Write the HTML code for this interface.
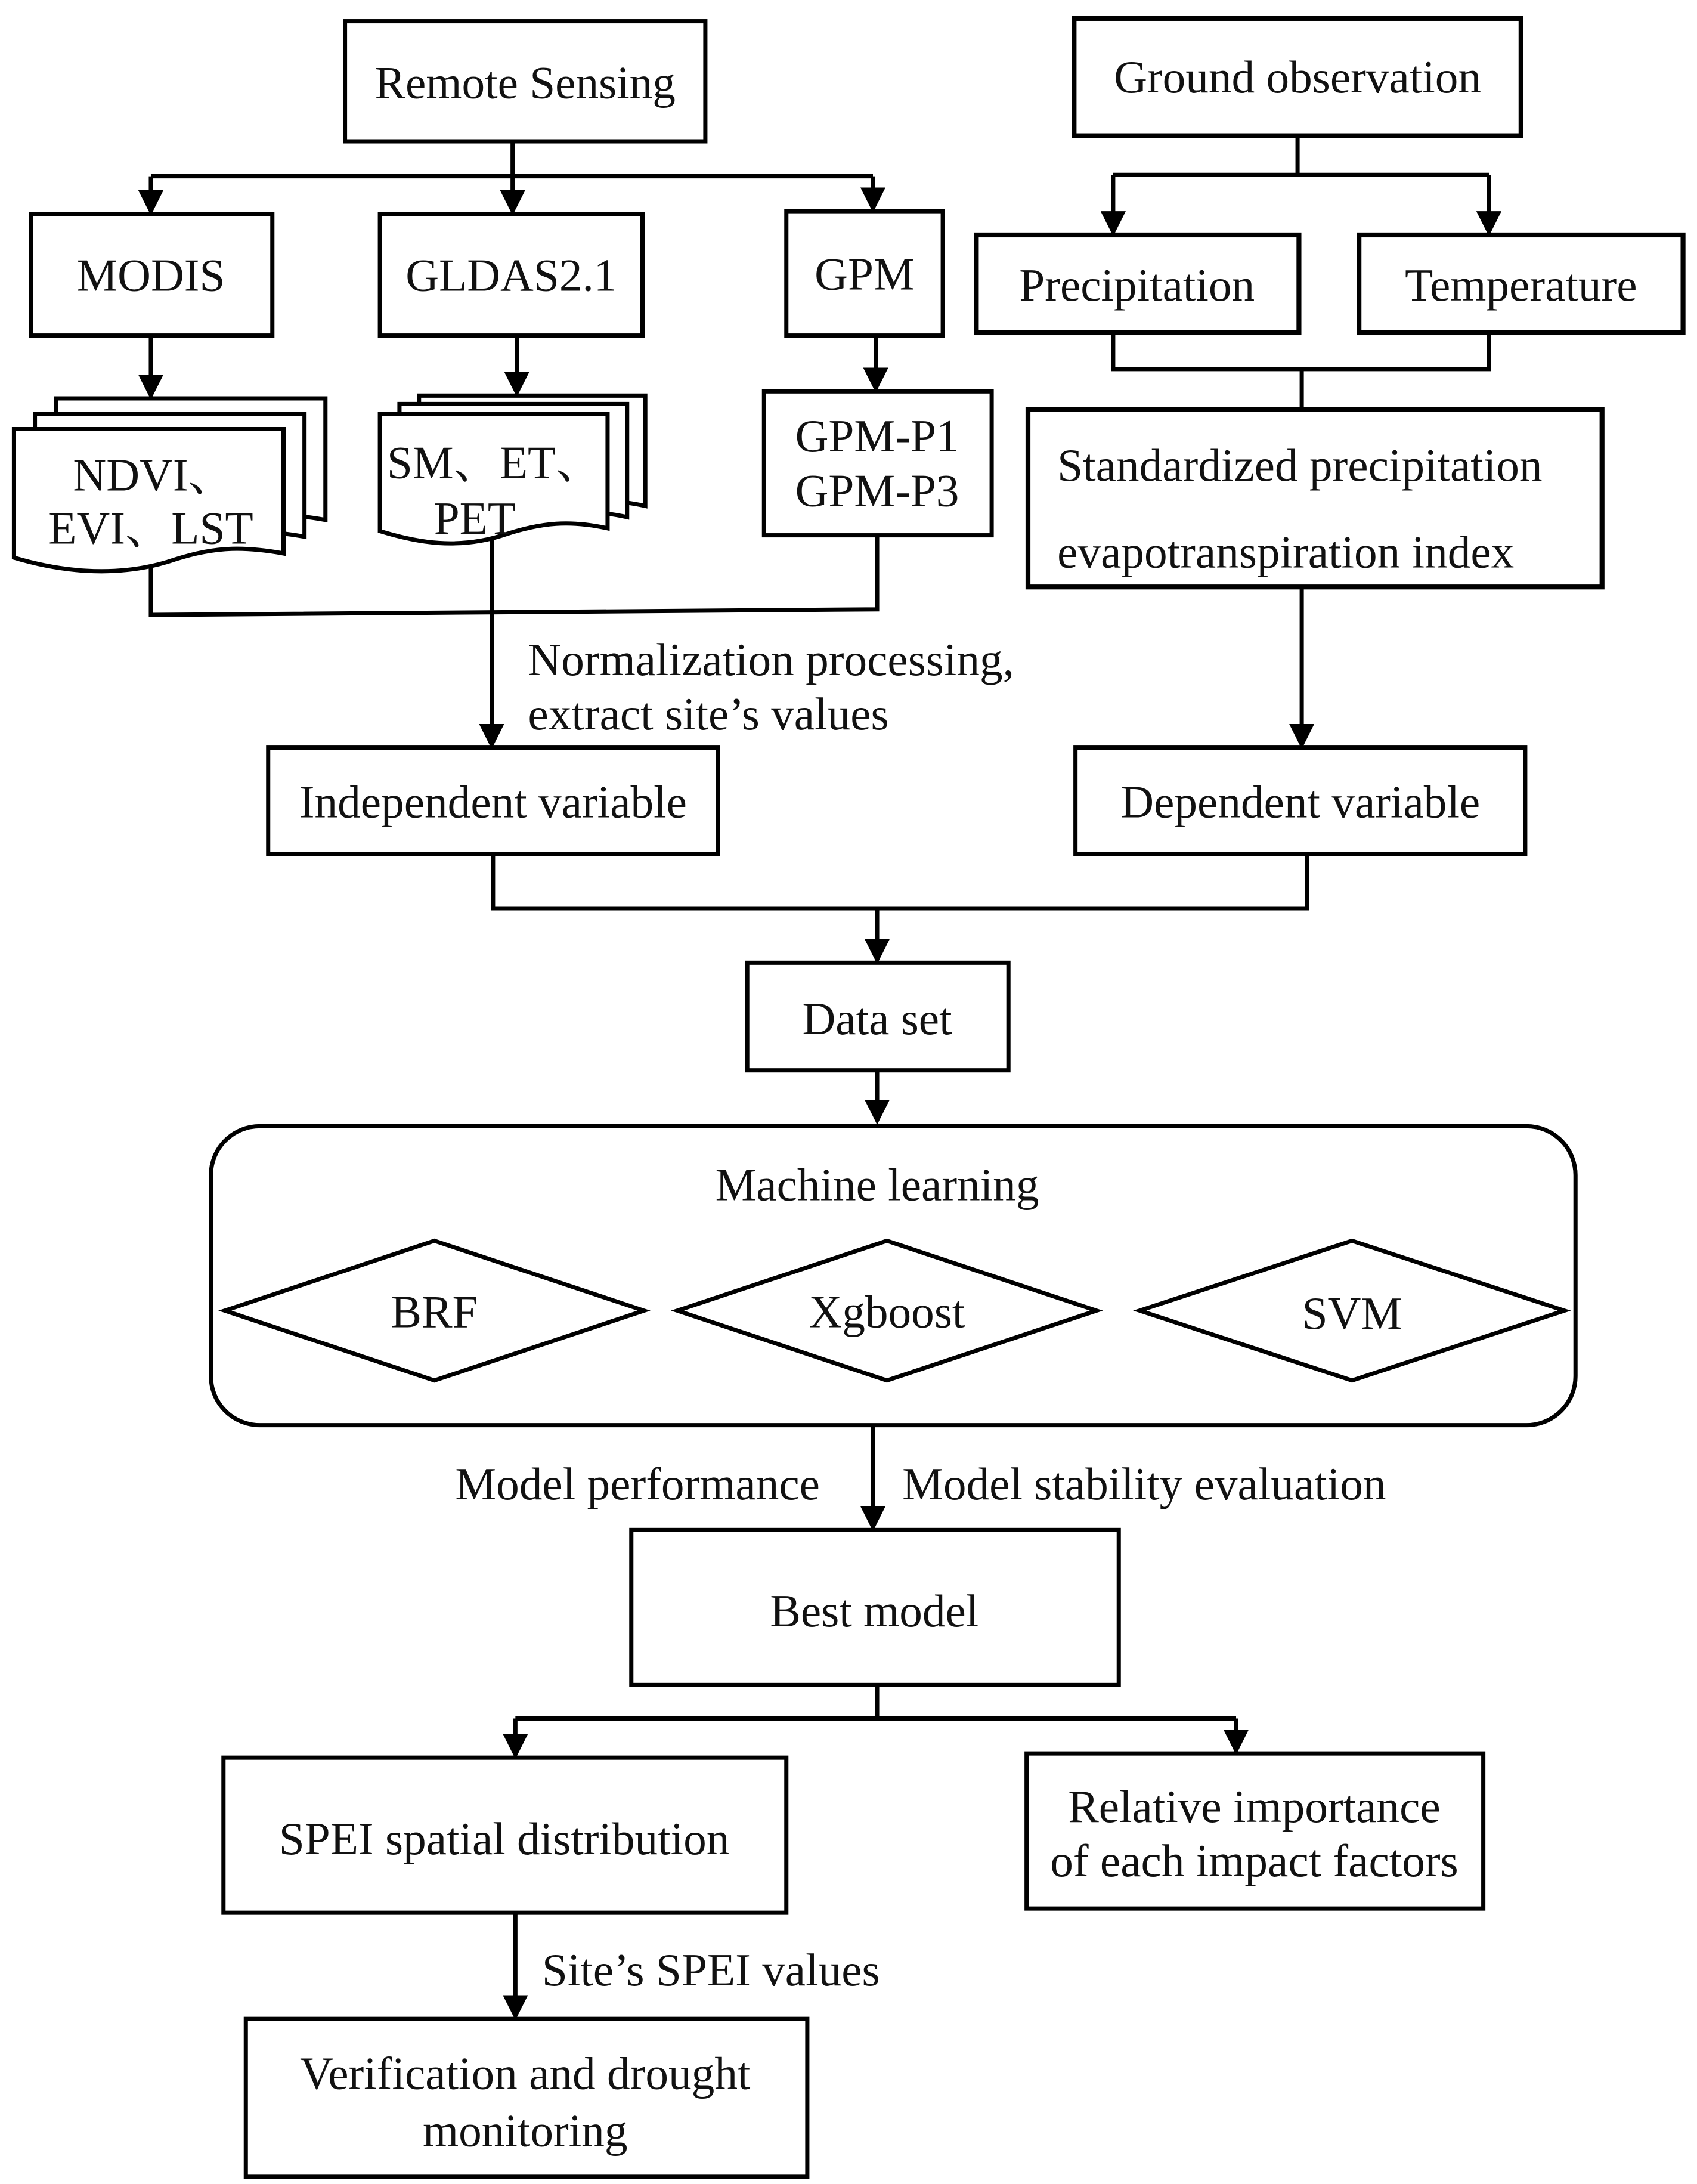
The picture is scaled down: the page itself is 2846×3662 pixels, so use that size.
<!DOCTYPE html>
<html><head><meta charset="utf-8"><style>
html,body{margin:0;padding:0;background:#fff;}
svg{display:block;}
text{font-family:"Liberation Serif","Noto Serif CJK SC",serif;font-size:33px;fill:#111;}
</style></head><body>
<svg width="2846" height="3662" viewBox="0 0 1215 1563" xmlns="http://www.w3.org/2000/svg">
<defs>
<marker id="a" markerWidth="6" markerHeight="6" refX="5" refY="3" orient="auto" markerUnits="strokeWidth">
<path d="M0,0 L6,3 L0,6 z" fill="#000"/></marker>
</defs>
<g fill="#fff" stroke="#000" stroke-width="3">
<rect x="247" y="15" width="258" height="86"/>
<rect x="769" y="13" width="320" height="84" stroke-width="3.5"/>
<rect x="22" y="153" width="173" height="87"/>
<rect x="272" y="153" width="188" height="87"/>
<rect x="563" y="151" width="112" height="89"/>
<rect x="699" y="168" width="231" height="70" stroke-width="3.5"/>
<rect x="973" y="168" width="232" height="70" stroke-width="3.5"/>
<rect x="547" y="280" width="163" height="103"/>
<rect x="736" y="293" width="411" height="127" stroke-width="3.5"/>
<path d="M40,285 H233 V372 C200,366 180,368 150,378 C110,390 70,384 40,375 Z"/>
<path d="M25,296 H218 V384 C185,378 165,380 135,390 C95,402 55,396 25,387 Z"/>
<path d="M10,307 H203 V396 C170,390 150,392 120,402 C80,414 40,408 10,399 Z"/>
<path d="M300,283 H462 V362 C435,356 415,358 390,366 C355,378 325,372 300,364 Z"/>
<path d="M286,289 H449 V370 C422,364 402,366 377,374 C342,386 312,380 286,372 Z"/>
<path d="M272,296 H435 V378 C408,372 388,374 363,382 C328,394 298,388 272,380 Z"/>
<rect x="192" y="535" width="322" height="76"/>
<rect x="770" y="535" width="322" height="76"/>
<rect x="535" y="689" width="187" height="77"/>
<rect x="151" y="806" width="977" height="214" rx="35"/>
<path d="M161,938 L311,888 L461,938 L311,988 Z"/>
<path d="M485,938 L635,888 L785,938 L635,988 Z"/>
<path d="M816,938 L968,888 L1120,938 L968,988 Z"/>
<rect x="452" y="1095" width="349" height="111"/>
<rect x="160" y="1258" width="403" height="111"/>
<rect x="735" y="1255" width="327" height="111"/>
<rect x="176" y="1445" width="402" height="113"/>
</g>
<g fill="none" stroke="#000" stroke-width="3">
<path d="M367,101 V126 M108,126 H625"/>
<path d="M108,126 V151" marker-end="url(#a)"/>
<path d="M367,126 V151" marker-end="url(#a)"/>
<path d="M625,126 V149" marker-end="url(#a)"/>
<path d="M108,240 V283" marker-end="url(#a)"/>
<path d="M370,240 V281" marker-end="url(#a)"/>
<path d="M627,240 V278" marker-end="url(#a)"/>
<path d="M929,97 V125 M797,125 H1066"/>
<path d="M797,125 V166" marker-end="url(#a)"/>
<path d="M1066,125 V166" marker-end="url(#a)"/>
<path d="M797,238 V264 H1066 V238 M932,264 V293"/>
<path d="M108,404 V440 L628,436 V383"/>
<path d="M352,385 V533" marker-end="url(#a)"/>
<path d="M932,420 V533" marker-end="url(#a)"/>
<path d="M353,611 V650 H936 V611"/>
<path d="M628,650 V687" marker-end="url(#a)"/>
<path d="M628,766 V802" marker-end="url(#a)"/>
<path d="M625,1020 V1093" marker-end="url(#a)"/>
<path d="M628,1206 V1230 H885 M628,1230 H369"/>
<path d="M369,1230 V1256" marker-end="url(#a)"/>
<path d="M885,1230 V1253" marker-end="url(#a)"/>
<path d="M369,1369 V1443" marker-end="url(#a)"/>
</g>
<g text-anchor="middle">
<text x="376" y="70">Remote Sensing</text>
<text x="929" y="66">Ground observation</text>
<text x="108" y="208">MODIS</text>
<text x="366" y="208">GLDAS2.1</text>
<text x="619" y="207">GPM</text>
<text x="814" y="215">Precipitation</text>
<text x="1089" y="215">Temperature</text>
<text x="628" y="323">GPM-P1</text>
<text x="628" y="362">GPM-P3</text>
<text x="110" y="351">NDVI、</text>
<text x="108" y="389">EVI、LST</text>
<text x="354" y="342">SM、ET、</text>
<text x="340" y="382">PET</text>
<text x="353" y="585">Independent variable</text>
<text x="931" y="585">Dependent variable</text>
<text x="628" y="740">Data set</text>
<text x="628" y="859">Machine learning</text>
<text x="311" y="950">BRF</text>
<text x="635" y="950">Xgboost</text>
<text x="968" y="951">SVM</text>
<text x="626" y="1164">Best model</text>
<text x="361" y="1327">SPEI spatial distribution</text>
<text x="898" y="1304">Relative importance</text>
<text x="898" y="1343">of each impact factors</text>
<text x="376" y="1495">Verification and drought</text>
<text x="376" y="1536">monitoring</text>
</g>
<text x="757" y="344">Standardized  precipitation</text>
<text x="757" y="406">evapotranspiration index</text>
<text x="378" y="483">Normalization processing,</text>
<text x="378" y="522">extract site’s values</text>
<text x="587" y="1073" text-anchor="end">Model performance</text>
<text x="646" y="1073">Model stability evaluation</text>
<text x="388" y="1421">Site’s SPEI values</text>
</svg>
</body></html>
